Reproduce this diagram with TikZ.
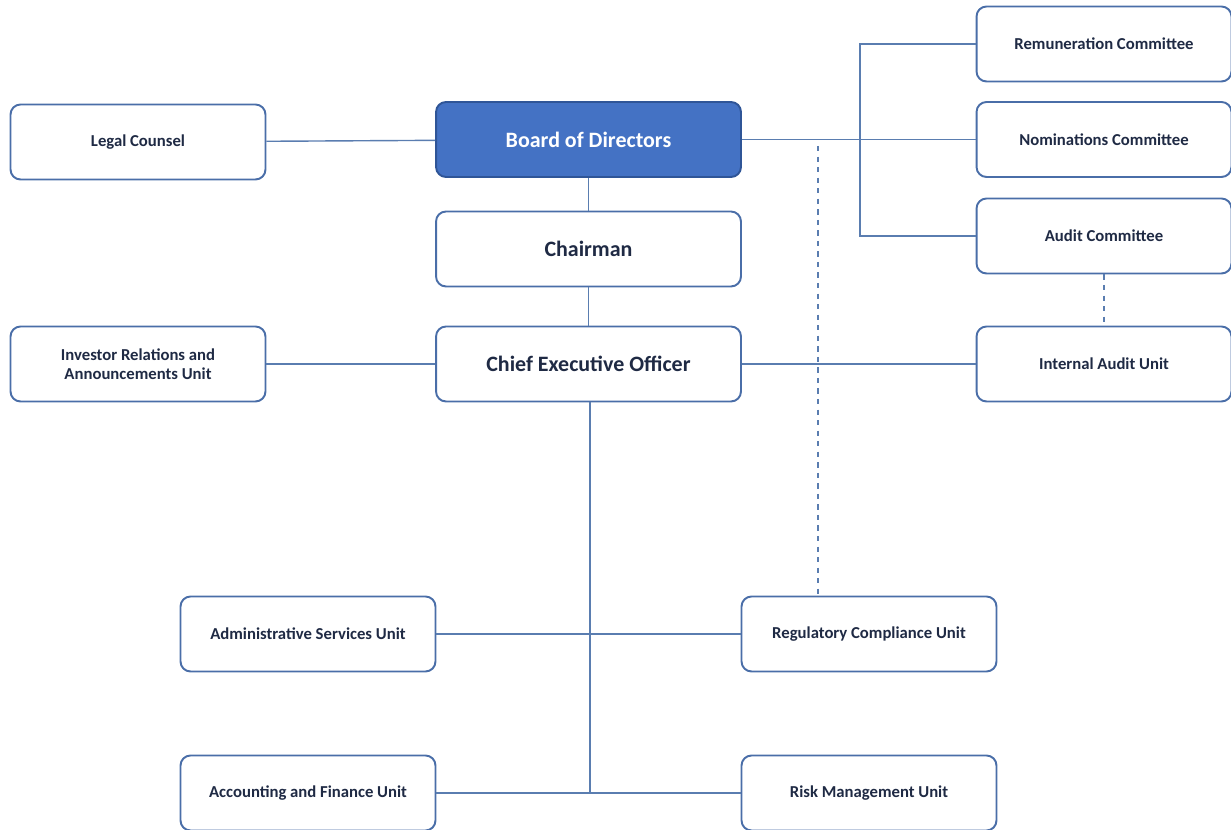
\documentclass[tikz,border=0pt]{standalone}
\usepackage{fontspec}
\setmainfont{Carlito}
\usetikzlibrary{
    positioning
}
\definecolor{boxline}{HTML}{4A6EA8}
\definecolor{wire}{HTML}{5A7DB0}
\definecolor{boardfill}{HTML}{4472C4}
\definecolor{boardline}{HTML}{2F5597}
\definecolor{ink}{HTML}{1F2A44}

\begin{document}
\begin{tikzpicture}[x=0.02cm, y=-0.02cm,
    unit/.style={draw=boxline, line width=1.1pt, rounded corners=0.2cm, fill=white,
        minimum width=5.1cm, minimum height=1.5cm, text=ink, font=\bfseries\fontsize{9.5}{11}\selectfont, align=center},
    head/.style={unit, minimum width=6.1cm, font=\bfseries\fontsize{12.5}{14}\selectfont},
    wire/.style={draw=wire, line width=0.8pt},
    dotted wire/.style={wire, dashed}]
    \useasboundingbox (0,0) rectangle (1231,830);
    % top of the tree
    \node[head, fill=boardfill, draw=boardline, text=white] (board) at (588.5,139.5) {Board of Directors};
    \node[head] (chair) at (588.5,249) {Chairman};
    \node[head] (ceo) at (588.5,364) {Chief Executive Officer};
    \node[unit] (legal) at (138,142) {Legal Counsel};
    \node[unit] (investor) at (138,364) {Investor Relations and\\Announcements Unit};
    % committees
    \node[unit] (remun) at (1104,44) {Remuneration Committee};
    \node[unit] (nomin) at (1104,139.5) {Nominations Committee};
    \node[unit] (auditc) at (1104,236) {Audit Committee};
    \node[unit] (intaudit) at (1104,364) {Internal Audit Unit};
    % units
    \node[unit] (admin) at (308,634) {Administrative Services Unit};
    \node[unit] (regul) at (869,634) {Regulatory Compliance Unit};
    \node[unit] (account) at (308,793) {Accounting and Finance Unit};
    \node[unit] (risk) at (869,793) {Risk Management Unit};
    \coordinate (fork) at (860,139.5);
    \coordinate (tap) at (818,146);
    \coordinate (trunk) at (590,793);

    \draw[wire] (legal) -- (board);
    \draw[wire, line width=1.1pt] (board) -- (nomin);
    \draw[wire] (remun.west) -| (fork) |- (auditc.west);
    \draw[wire] (board) -- (chair);
    \draw[wire] (chair) -- (ceo);
    \draw[wire] (investor) -- (ceo);
    \draw[wire] (ceo) -- (intaudit);
    \draw[dotted wire] (auditc) -- (intaudit);
    \draw[dotted wire] (tap) -- (tap |- regul.north);
    \draw[wire] (ceo.south -| trunk) -- (trunk);
    \draw[wire] (admin) -- (regul);
    \draw[wire] (account) -- (risk);
\end{tikzpicture}
\end{document}
